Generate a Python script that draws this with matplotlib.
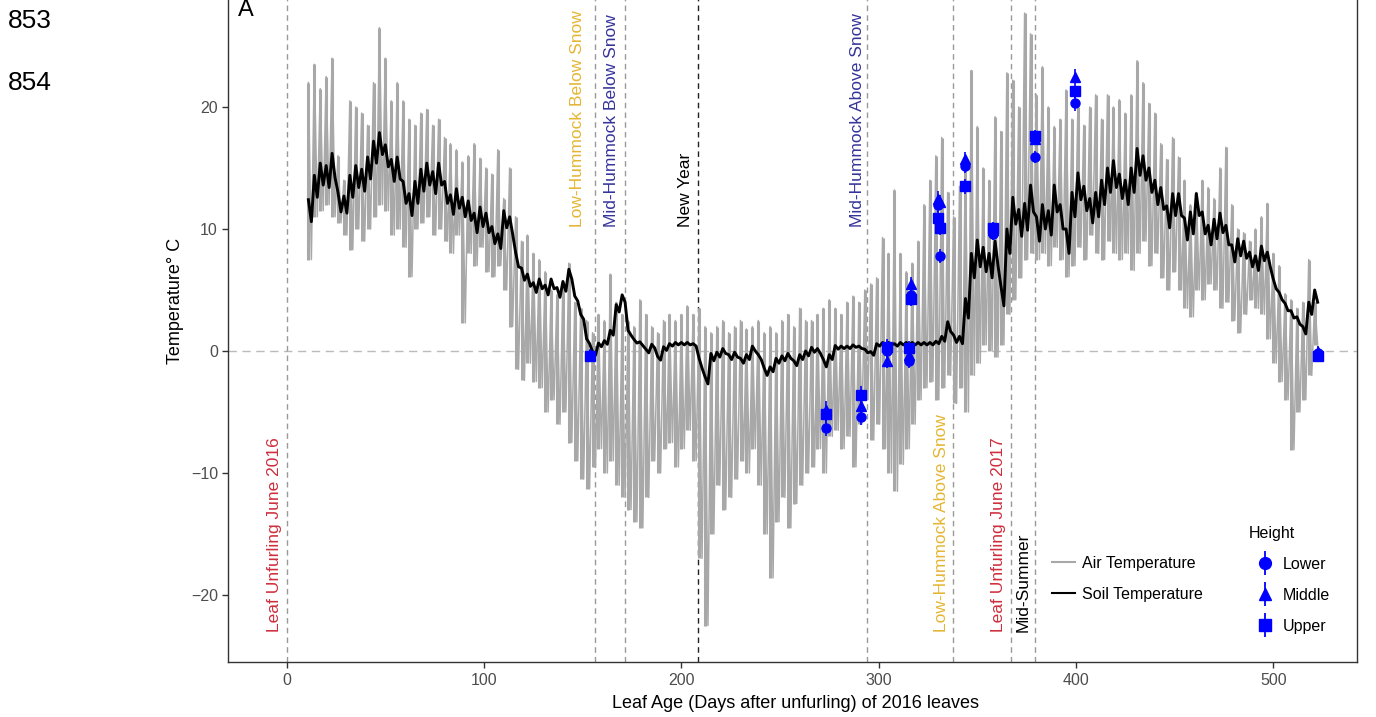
import numpy as np
import matplotlib
matplotlib.use('Agg')
import matplotlib.pyplot as plt
from matplotlib.lines import Line2D
from matplotlib.legend_handler import HandlerTuple

plt.rcParams['font.family'] = ['Liberation Sans', 'DejaVu Sans']

# leaf age (days), one sample every 3 days; highs / lows
days = np.arange(11, 522, 3)

air_hi = [22.0, 23.5, 21.5, 22.5, 24.0, 16.0, 14.0, 20.5, 20.0, 19.5,
          18.5, 22.0, 26.5, 24.0, 20.5, 22.0, 20.5, 19.0, 18.5, 19.5,
          19.8, 18.5, 19.0, 17.5, 17.0, 16.5, 15.5, 16.0, 17.0, 15.8,
          15.0, 14.5, 16.5, 12.5, 15.0, 11.0, 9.0, 9.5, 8.0, 7.5,
          6.5, 5.0, 4.6, 5.5, 7.2, 4.0, 3.5, 2.5, 1.5, 3.0,
          2.5, 6.3, 4.0, 3.0, 2.5, 2.0, 4.2, 3.0, 2.0, 1.5,
          2.5, 3.0, 2.5, 3.0, 3.7, 3.0, 3.5, 2.0, 1.5, 2.0,
          2.5, 1.5, 2.0, 2.5, 1.8, 2.0, 2.5, 1.5, 2.0, 1.5,
          2.5, 3.0, 2.0, 3.5, 2.5, 2.5, 3.0, 3.5, 4.2, 3.5,
          3.0, 4.0, 4.5, 4.0, 5.0, 5.5, 6.0, 9.3, 8.0, 13.2,
          8.0, 6.5, 7.2, 9.0, 12.0, 14.0, 16.0, 17.5, 13.0, 11.0,
          13.5, 16.0, 23.0, 18.4, 15.0, 14.0, 19.2, 18.0, 22.8, 22.2,
          20.0, 27.7, 26.0, 21.0, 23.3, 20.0, 18.4, 19.0, 21.4, 19.0,
          20.0, 18.5, 20.0, 21.0, 19.0, 21.0, 20.0, 20.6, 19.5, 21.0,
          23.8, 22.0, 20.3, 19.5, 17.0, 15.7, 17.5, 15.9, 14.0, 12.0,
          13.0, 14.0, 13.4, 12.5, 15.0, 16.7, 12.0, 10.0, 9.7, 9.0,
          10.0, 11.0, 12.1, 8.0, 7.0, 4.7, 4.2, 3.5, 4.0, 7.5,
          4.0]

air_lo = [7.5, 11.0, 11.5, 12.0, 11.0, 10.5, 9.5, 8.3, 10.0, 9.0,
          10.0, 11.0, 12.0, 11.5, 9.5, 10.0, 8.5, 6.1, 10.0, 10.5,
          11.0, 9.5, 10.0, 9.0, 8.0, 9.5, 2.3, 8.0, 7.0, 8.5,
          6.5, 6.1, 7.0, 5.0, 2.0, -1.5, -2.4, -1.0, -2.5, -3.0,
          -5.0, -4.0, -6.0, -5.0, -7.5, -9.0, -10.5, -11.3, -9.5, -8.0,
          -10.0, -9.0, -11.0, -12.0, -13.0, -14.0, -14.5, -12.0, -9.0, -10.0,
          -8.0, -7.5, -9.5, -8.0, -6.5, -9.0, -17.0, -22.5, -15.0, -11.0,
          -13.0, -12.0, -10.5, -9.0, -10.0, -8.0, -11.0, -15.0, -18.6, -14.0,
          -12.0, -14.5, -12.5, -11.0, -10.0, -9.5, -8.0, -10.0, -7.0, -6.5,
          -8.0, -7.0, -9.5, -6.0, -4.0, -7.3, -6.0, -8.0, -10.0, -11.5,
          -9.3, -8.0, -6.0, -4.0, -3.0, -2.5, -4.0, -3.0, -2.0, -4.3,
          -3.0, -5.0, -2.0, -1.0, 0.5, 0.0, -0.5, 0.5, 3.0, 4.2,
          6.0, 7.5, 8.0, 7.5, 8.0, 7.0, 8.5, 7.5, 6.1, 7.0,
          8.5, 7.5, 9.5, 8.0, 7.5, 9.0, 8.0, 7.5, 8.0, 6.6,
          8.0, 9.0, 7.0, 8.0, 6.0, 5.0, 6.5, 5.0, 3.5, 2.8,
          5.0, 4.2, 5.5, 5.0, 3.5, 4.0, 2.5, 1.5, 3.0, 4.2,
          3.5, 3.0, 1.0, -1.0, -2.5, -4.0, -8.1, -5.0, -4.0, -2.0,
          0.5]

soil_mid = [11.5, 13.5, 14.5, 14.3, 15.2, 12.2, 12.0, 13.5, 14.3, 14.0,
            15.0, 16.3, 17.0, 16.0, 14.8, 15.0, 13.0, 12.0, 13.0, 14.0,
            14.5, 13.8, 14.5, 13.0, 12.0, 12.5, 11.8, 11.5, 10.5, 11.0,
            10.5, 9.5, 9.0, 10.8, 10.3, 7.5, 6.3, 5.8, 5.2, 5.5,
            5.0, 5.5, 4.8, 5.3, 6.3, 4.3, 2.8, 0.8, -0.2, 0.5,
            0.7, 1.5, 3.5, 4.3, 1.5, 0.8, 0.6, 0.0, 0.4, -0.6,
            0.2, 0.5, 0.6, 0.6, 0.6, 0.5, -1.0, -2.4, -0.5, -0.3,
            0.0, -0.5, -0.3, -0.8, -0.5, 0.2, -0.5, -1.7, -1.5, -0.8,
            -0.6, -0.4, -1.0, -0.5, -0.2, 0.1, 0.0, -1.0, -0.5, 0.3,
            0.3, 0.3, 0.4, 0.3, 0.0, -0.2, 0.5, 0.6, 0.6, 0.5,
            0.6, 0.6, 0.6, 0.6, 0.6, 0.6, 0.7, 1.0, 2.0, 1.0,
            0.9, 3.5, 7.0, 8.0, 7.5, 7.0, 8.0, 4.5, 9.0, 11.5,
            10.5, 11.0, 12.5, 10.0, 11.0, 10.5, 12.5, 11.0, 9.0, 12.0,
            13.5, 12.5, 11.5, 12.0, 13.0, 14.0, 14.5, 13.5, 13.0, 14.0,
            15.5, 15.0, 14.0, 13.0, 12.5, 11.0, 12.0, 12.0, 10.0, 10.5,
            12.0, 10.5, 9.5, 10.0, 10.5, 9.5, 8.0, 8.5, 8.3, 7.5,
            7.2, 8.0, 7.5, 5.5, 4.5, 3.6, 3.0, 2.5, 1.7, 3.5,
            4.5]

# half of the daily soil swing (thick band in summer, thin in winter)
soil_half = [0.9, 0.9, 0.9, 0.9, 1.0, 0.8, 0.7, 0.9, 0.9, 0.9,
             0.9, 0.9, 0.9, 0.9, 0.9, 0.9, 0.9, 0.9, 0.9, 0.9,
             0.9, 0.9, 0.9, 0.9, 0.8, 0.8, 0.8, 0.8, 0.8, 0.8,
             0.8, 0.7, 0.6, 0.7, 0.7, 0.6, 0.5, 0.5, 0.4, 0.4,
             0.4, 0.4, 0.4, 0.4, 0.4, 0.2, 0.2, 0.2, 0.15, 0.15,
             0.15, 0.2, 0.3, 0.3, 0.2, 0.15, 0.15, 0.15, 0.15, 0.15,
             0.15, 0.1, 0.1, 0.1, 0.1, 0.1, 0.4, 0.3, 0.3, 0.2,
             0.2, 0.2, 0.2, 0.2, 0.2, 0.2, 0.2, 0.3, 0.2, 0.2,
             0.2, 0.2, 0.2, 0.2, 0.2, 0.2, 0.2, 0.3, 0.2, 0.15,
             0.1, 0.1, 0.1, 0.1, 0.15, 0.15, 0.1, 0.1, 0.1, 0.1,
             0.1, 0.1, 0.1, 0.1, 0.1, 0.1, 0.1, 0.2, 0.4, 0.3,
             0.3, 0.8, 1.0, 1.1, 1.0, 1.0, 1.0, 0.8, 1.0, 1.1,
             1.1, 1.1, 1.1, 1.0, 1.0, 1.0, 1.1, 1.0, 1.0, 1.0,
             1.1, 1.0, 1.0, 1.0, 1.0, 1.0, 1.1, 1.0, 1.0, 1.0,
             1.1, 1.0, 1.0, 1.0, 0.9, 0.9, 0.9, 0.9, 0.9, 0.9,
             0.9, 0.9, 0.8, 0.8, 0.8, 0.8, 0.7, 0.7, 0.7, 0.6,
             0.6, 0.6, 0.6, 0.4, 0.3, 0.3, 0.3, 0.3, 0.3, 0.5,
             0.5]

# leaf temperature measurements by height
pt_day = [153.7, 273.5, 291.0, 304.4, 315.5, 316.4, 330.0, 331.0, 343.8, 358.0, 379.3, 399.5, 522.5]
lower  = [-0.4, -6.3, -5.4, 0.0, -0.8, 4.6, 12.0, 7.8, 15.2, 9.6, 15.9, 20.3, -0.2]
middle = [-0.3, -4.8, -4.5, -0.8, -0.3, 5.5, 12.5, 12.2, 15.7, 9.9, 17.4, 22.5, -0.1]
upper  = [-0.4, -5.2, -3.6, 0.35, 0.25, 4.3, 10.9, 10.1, 13.5, 10.1, 17.6, 21.3, -0.4]
pt_err = [0.5, 0.7, 0.7, 0.6, 0.6, 0.6, 0.6, 0.6, 0.6, 0.5, 0.5, 0.6, 0.5]

# events
ev_day = [0, 156.5, 171.5, 208.5, 294, 337.5, 367, 379]
ev_lab = ['Leaf Unfurling June 2016', 'Low-Hummock Below Snow', 'Mid-Hummock Below Snow',
          'New Year', 'Mid-Hummock Above Snow', 'Low-Hummock Above Snow',
          'Leaf Unfurling June 2017', 'Mid-Summer']
ev_txt_x = [-6, 147.6, 164.7, 202.2, 289.2, 332, 361, 373.4]
ev_txt_y = [-23, 10.2, 10.2, 10.2, 10.2, -23, -23, -23]

RED = '#CF2E3C'
GOLD = '#E5B634'
NAVY = '#35349B'
ev_col = [RED, GOLD, NAVY, 'black', NAVY, GOLD, RED, 'black']
ev_line = ['#999999', '#999999', '#999999', '#222222', '#999999', '#999999', '#999999', '#999999']

AIR = '#A8A8A8'
BLUE = '#0000FF'

W, H = 1376, 717
fig = plt.figure(figsize=(W / 100, H / 100), dpi=100)
# panel: left 228.3px, right 1357.3px, bottom 662px, top clipped off the page
ax = fig.add_axes([228.3 / W, 1 - 662.1 / H, 1129 / W, 701.5 / H])
ax.set_xlim(-29.6, 542.6)
ax.set_ylim(-25.5, 32)

ax.axhline(0, color='#BBBBBB', lw=1, ls=(0, (6, 4)), zorder=1)
for d, c in zip(ev_day, ev_line):
    ax.axvline(d, color=c, lw=1, ls=(0, (4, 3)), zorder=1)

# air: vertical strokes for each sample plus a zigzag between highs and lows
ax.vlines(days, air_lo, air_hi, color=AIR, lw=2.2, zorder=2)
ax_x = np.ravel(np.column_stack([days, days + 1.5]))
air_y = np.ravel(np.column_stack([air_hi, air_lo]))
ax.plot(ax_x, air_y, color=AIR, lw=1.1, zorder=2)

s_mid = np.array(soil_mid)
s_half = np.array(soil_half)
soil_y = np.ravel(np.column_stack([s_mid + s_half, s_mid - s_half]))
ax.plot(ax_x, soil_y, color='black', lw=2.1, zorder=3)

ms = 6.5
ax.errorbar(pt_day, lower, yerr=pt_err, fmt='o', color=BLUE, ms=ms, elinewidth=1.2, capsize=0, zorder=5)
ax.errorbar(pt_day, middle, yerr=pt_err, fmt='^', color=BLUE, ms=ms, elinewidth=1.2, capsize=0, zorder=5)
ax.errorbar(pt_day, upper, yerr=pt_err, fmt='s', color=BLUE, ms=ms, elinewidth=1.2, capsize=0, zorder=5)

for x, y, t, c in zip(ev_txt_x, ev_txt_y, ev_lab, ev_col):
    ax.text(x, y, t, rotation=90, ha='center', va='bottom', color=c, fontsize=12.5, zorder=6)

ax.set_xticks([0, 100, 200, 300, 400, 500])
ax.set_yticks([-20, -10, 0, 10, 20])
ax.tick_params(colors='#333333', labelcolor='#4D4D4D', labelsize=11.5, length=4, width=1)
for sp in ax.spines.values():
    sp.set_color('#333333')
    sp.set_linewidth(1)

# legends
h_air = Line2D([], [], color=AIR, lw=1.5)
h_soil = Line2D([], [], color='black', lw=1.5)
leg1 = ax.legend([h_air, h_soil], ['Air Temperature', 'Soil Temperature'],
                 loc='upper left', bbox_to_anchor=(1052 / W, 1 - 556 / H), bbox_transform=fig.transFigure,
                 frameon=False, fontsize=11.5, handlelength=1.44, handletextpad=0.44,
                 labelspacing=1.0, borderpad=0, borderaxespad=0)
ax.add_artist(leg1)

def hkey(m):
    bar = Line2D([], [], color=BLUE, marker='|', ms=17, mew=1.3, ls='none')
    dot = Line2D([], [], color=BLUE, marker=m, ms=8.5, ls='none')
    return (bar, dot)

ax.legend([hkey('o'), hkey('^'), hkey('s')], ['Lower', 'Middle', 'Upper'],
          handler_map={tuple: HandlerTuple(ndivide=1, pad=0)},
          title='Height', loc='upper left', bbox_to_anchor=(1249 / W, 1 - 526 / H),
          bbox_transform=fig.transFigure, frameon=False, fontsize=11.5,
          title_fontsize=11.5, alignment='left', handlelength=2.0, handletextpad=0.12,
          labelspacing=1.0, borderpad=0, borderaxespad=0)

fig.text(176 / W, 1 - 301 / H, 'Temperature° C', rotation=90, ha='center', va='center', fontsize=13)
fig.text(796 / W, 1 - 704 / H, 'Leaf Age (Days after unfurling) of 2016 leaves', ha='center', va='center', fontsize=13)

fig.text(238 / W, 1 - 16 / H, 'A', ha='left', va='baseline', fontsize=17)
fig.text(8 / W, 1 - 28 / H, '853', ha='left', va='baseline', fontsize=19)
fig.text(8 / W, 1 - 90 / H, '854', ha='left', va='baseline', fontsize=19)

fig.savefig('out.png', dpi=100)
